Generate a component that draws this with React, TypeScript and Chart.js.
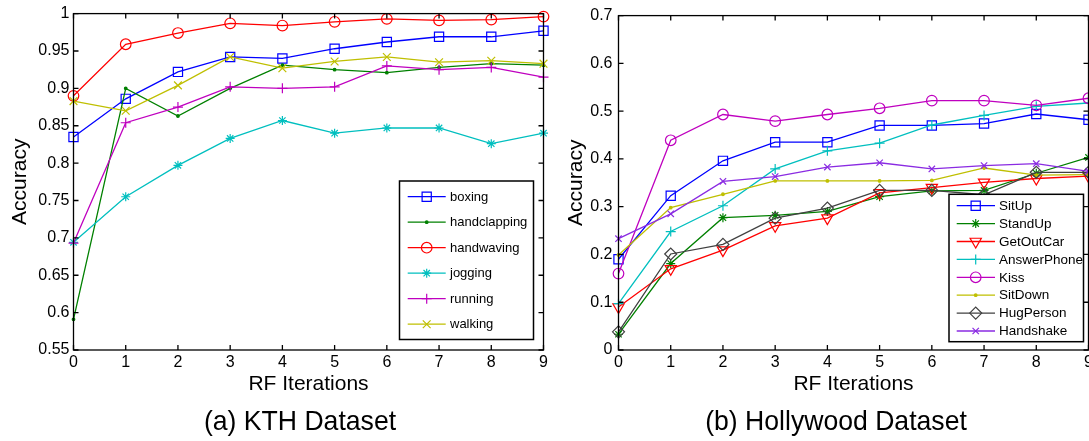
import React, { useEffect, useRef } from 'react';
import { Chart, registerables } from 'chart.js';
import { drawPoint } from 'chart.js/helpers';

Chart.register(...registerables);

// ---------- data ----------
const iterations = ['0', '1', '2', '3', '4', '5', '6', '7', '8', '9'];

const kthYTicks = [0.55, 0.6, 0.65, 0.7, 0.75, 0.8, 0.85, 0.9, 0.95, 1];
const hollyYTicks = [0, 0.1, 0.2, 0.3, 0.4, 0.5, 0.6, 0.7];

const kthNames = ['boxing', 'handclapping', 'handwaving', 'jogging', 'running', 'walking'];
const boxing = [0.835, 0.886, 0.922, 0.942, 0.94, 0.953, 0.962, 0.969, 0.969, 0.977];
const handclapping = [0.591, 0.9, 0.863, 0.9, 0.931, 0.925, 0.921, 0.928, 0.933, 0.931];
const handwaving = [0.89, 0.959, 0.974, 0.987, 0.984, 0.989, 0.993, 0.991, 0.992, 0.996];
const jogging = [0.694, 0.755, 0.797, 0.833, 0.857, 0.84, 0.847, 0.847, 0.826, 0.84];
const running = [0.693, 0.854, 0.875, 0.902, 0.9, 0.902, 0.93, 0.925, 0.928, 0.915];
const walking = [0.883, 0.87, 0.904, 0.942, 0.927, 0.936, 0.942, 0.935, 0.937, 0.933];

const hollyNames = ['SitUp', 'StandUp', 'GetOutCar', 'AnswerPhone', 'Kiss', 'SitDown', 'HugPerson', 'Handshake'];
const sitUp = [0.19, 0.323, 0.396, 0.435, 0.435, 0.47, 0.47, 0.474, 0.494, 0.482];
const standUp = [0.033, 0.181, 0.277, 0.282, 0.29, 0.321, 0.333, 0.334, 0.37, 0.403];
const getOutCar = [0.09, 0.17, 0.209, 0.26, 0.276, 0.329, 0.34, 0.351, 0.359, 0.364];
const answerPhone = [0.097, 0.248, 0.302, 0.379, 0.417, 0.433, 0.471, 0.491, 0.51, 0.517];
const kiss = [0.16, 0.439, 0.493, 0.479, 0.493, 0.506, 0.522, 0.522, 0.512, 0.527];
const sitDown = [0.199, 0.298, 0.326, 0.354, 0.354, 0.354, 0.355, 0.381, 0.366, 0.367];
const hugPerson = [0.038, 0.201, 0.221, 0.276, 0.297, 0.334, 0.334, 0.325, 0.372, 0.372];
const handshake = [0.233, 0.285, 0.353, 0.363, 0.383, 0.392, 0.379, 0.386, 0.39, 0.374];

// ---------- styles ----------
const FONT = '"Liberation Sans", Arial, Helvetica, sans-serif';

type Marker = { pointStyle: string; radius: number; rotation?: number; filled?: boolean };

const kthStyles: { color: string; marker: Marker }[] = [
  { color: '#0000ff', marker: { pointStyle: 'rect', radius: 6.5 } },
  { color: '#008000', marker: { pointStyle: 'circle', radius: 1.3, filled: true } },
  { color: '#ff0000', marker: { pointStyle: 'circle', radius: 5.3 } },
  { color: '#00bfbf', marker: { pointStyle: 'star', radius: 4.5 } },
  { color: '#bf00bf', marker: { pointStyle: 'cross', radius: 5 } },
  { color: '#bfbf00', marker: { pointStyle: 'crossRot', radius: 5.5 } },
];

const hollyStyles: { color: string; marker: Marker }[] = [
  { color: '#0000ff', marker: { pointStyle: 'rect', radius: 6.5 } },
  { color: '#008000', marker: { pointStyle: 'star', radius: 4.5 } },
  { color: '#ff0000', marker: { pointStyle: 'triangle', radius: 6.5, rotation: 180 } },
  { color: '#00bfbf', marker: { pointStyle: 'cross', radius: 5 } },
  { color: '#bf00bf', marker: { pointStyle: 'circle', radius: 5.3 } },
  { color: '#bfbf00', marker: { pointStyle: 'circle', radius: 1.3, filled: true } },
  { color: '#404040', marker: { pointStyle: 'rectRot', radius: 6 } },
  { color: '#8a2be2', marker: { pointStyle: 'crossRot', radius: 4.5 } },
];

function buildDatasets(names: string[], series: number[][], styles: { color: string; marker: Marker }[]) {
  const n = names.length;
  return names.map((name, i) => {
    const st = styles[i];
    return {
      label: name,
      data: series[i],
      borderColor: st.color,
      backgroundColor: st.marker.filled ? st.color : 'rgba(0,0,0,0)',
      borderWidth: 1.3,
      pointStyle: st.marker.pointStyle,
      pointRadius: st.marker.radius,
      pointRotation: st.marker.rotation || 0,
      pointBorderColor: st.color,
      pointBackgroundColor: st.marker.filled ? st.color : 'rgba(0,0,0,0)',
      pointBorderWidth: 1.2,
      tension: 0,
      fill: false,
      clip: false as any,
      order: n - i,
      _marker: st.marker,
    };
  });
}

// frame with inward ticks on all four sides (MATLAB box style)
const framePlugin = {
  id: 'matlabFrame',
  afterDatasetsDraw(chart: any) {
    const { ctx, chartArea } = chart;
    const { left, right, top, bottom } = chartArea;
    const xs = chart.scales.x;
    const ys = chart.scales.y;
    const len = 5;
    ctx.save();
    ctx.strokeStyle = '#000';
    ctx.lineWidth = 1.3;
    ctx.beginPath();
    xs.ticks.forEach((_t: any, i: number) => {
      const px = xs.getPixelForTick(i);
      ctx.moveTo(px, bottom);
      ctx.lineTo(px, bottom - len);
      ctx.moveTo(px, top);
      ctx.lineTo(px, top + len);
    });
    ys.ticks.forEach((t: any) => {
      const py = ys.getPixelForValue(t.value);
      ctx.moveTo(left, py);
      ctx.lineTo(left + len, py);
      ctx.moveTo(right, py);
      ctx.lineTo(right - len, py);
    });
    ctx.stroke();
    ctx.strokeRect(left, top, right - left, bottom - top);
    ctx.restore();
  },
};

// legend box drawn inside the plot
const boxLegendPlugin = {
  id: 'boxLegend',
  afterDraw(chart: any, _args: any, opts: any) {
    if (!opts || !opts.display) return;
    const { ctx } = chart;
    const { left, top, right, bottom, firstRow, rowGap, lineFrom, lineTo, markerX, textX, fontSize } = opts;
    ctx.save();
    ctx.fillStyle = '#fff';
    ctx.fillRect(left, top, right - left, bottom - top);
    ctx.strokeStyle = '#000';
    ctx.lineWidth = 1.5;
    ctx.strokeRect(left, top, right - left, bottom - top);
    chart.data.datasets.forEach((ds: any, i: number) => {
      const y = firstRow + i * rowGap;
      ctx.strokeStyle = ds.borderColor;
      ctx.lineWidth = 1.3;
      ctx.beginPath();
      ctx.moveTo(lineFrom, y);
      ctx.lineTo(lineTo, y);
      ctx.stroke();
      const m = ds._marker;
      ctx.fillStyle = m.filled ? ds.borderColor : 'rgba(0,0,0,0)';
      ctx.strokeStyle = ds.borderColor;
      ctx.lineWidth = 1.2;
      drawPoint(ctx, { pointStyle: m.pointStyle, radius: m.radius, rotation: m.rotation || 0, borderWidth: 1.2 } as any, markerX, y);
      ctx.fillStyle = '#000';
      ctx.font = `${fontSize}px ${FONT}`;
      ctx.textAlign = 'left';
      ctx.textBaseline = 'middle';
      ctx.fillText(ds.label, textX, y + 0.5);
    });
    ctx.restore();
  },
};

function fmt(v: number) {
  return String(Number(v.toFixed(2)));
}

type ChartSpec = {
  names: string[];
  series: number[][];
  styles: { color: string; marker: Marker }[];
  yTicks: number[];
  yAxisWidth: number;
  padRight: number;
  yTickPad: number;
  yTitlePad: number;
  legend: any;
};

function makeConfig(spec: ChartSpec): any {
  const yMin = spec.yTicks[0];
  const yMax = spec.yTicks[spec.yTicks.length - 1];
  return {
    type: 'line',
    data: { labels: iterations, datasets: buildDatasets(spec.names, spec.series, spec.styles) },
    options: {
      animation: false,
      responsive: false,
      devicePixelRatio: 1,
      layout: { padding: { left: 0, top: 12, right: spec.padRight, bottom: 41 } },
      plugins: {
        legend: { display: false },
        tooltip: { enabled: false },
        boxLegend: spec.legend,
      },
      scales: {
        x: {
          type: 'category',
          offset: false,
          grid: { display: false, drawTicks: false },
          border: { display: false },
          ticks: { color: '#000', font: { family: FONT, size: 16 }, padding: 3, maxRotation: 0, autoSkip: false },
          title: {
            display: true,
            text: 'RF Iterations',
            color: '#000',
            font: { family: FONT, size: 21 },
            padding: { top: 0, bottom: 3 },
          },
          afterFit: (s: any) => {
            s.height = 50;
          },
        },
        y: {
          type: 'linear',
          min: yMin,
          max: yMax,
          grid: { display: false, drawTicks: false },
          border: { display: false },
          afterBuildTicks: (s: any) => {
            s.ticks = spec.yTicks.map((v) => ({ value: v }));
          },
          ticks: {
            color: '#000',
            font: { family: FONT, size: 16 },
            padding: spec.yTickPad,
            callback: (v: any) => fmt(Number(v)),
          },
          title: {
            display: true,
            text: 'Accuracy',
            color: '#000',
            font: { family: FONT, size: 21 },
            padding: { top: spec.yTitlePad, bottom: 0 },
          },
          afterFit: (s: any) => {
            s.width = spec.yAxisWidth;
          },
        },
      },
    },
    plugins: [framePlugin, boxLegendPlugin],
  };
}

const kthSpec: ChartSpec = {
  names: kthNames,
  series: [boxing, handclapping, handwaving, jogging, running, walking],
  styles: kthStyles,
  yTicks: kthYTicks,
  yAxisWidth: 73.5,
  padRight: 11.5,
  yTickPad: 4,
  yTitlePad: 8,
  legend: {
    display: true,
    left: 399.5,
    top: 181,
    right: 533.5,
    bottom: 339.5,
    firstRow: 196.7,
    rowGap: 25.5,
    lineFrom: 407.7,
    lineTo: 445.7,
    markerX: 426.7,
    textX: 450,
    fontSize: 13,
  },
};

const hollySpec: ChartSpec = {
  names: hollyNames,
  series: [sitUp, standUp, getOutCar, answerPhone, kiss, sitDown, hugPerson, handshake],
  styles: hollyStyles,
  yTicks: hollyYTicks,
  yAxisWidth: 63.5,
  padRight: 11.5,
  yTickPad: 6,
  yTitlePad: 9,
  legend: {
    display: true,
    left: 394,
    top: 194.3,
    right: 528.5,
    bottom: 341.7,
    firstRow: 205.7,
    rowGap: 17.9,
    lineFrom: 401.7,
    lineTo: 440,
    markerX: 420.7,
    textX: 444,
    fontSize: 13.5,
  },
};

function LineChart({ spec, width, height }: { spec: ChartSpec; width: number; height: number }) {
  const ref = useRef<HTMLCanvasElement | null>(null);
  useEffect(() => {
    if (!ref.current) return;
    const chart = new Chart(ref.current, makeConfig(spec));
    return () => chart.destroy();
  }, [spec]);
  return <canvas ref={ref} width={width} height={height} style={{ display: 'block', width, height }} />;
}

const captionStyle: React.CSSProperties = {
  position: 'absolute',
  top: 405,
  width: 600,
  textAlign: 'center',
  fontFamily: FONT,
  fontSize: 28,
  lineHeight: '31px',
  color: '#000',
  whiteSpace: 'nowrap',
  transform: 'scaleX(0.95)',
  transformOrigin: 'center',
};

export default function App() {
  return (
    <div
      style={{
        position: 'absolute',
        left: 0,
        top: 0,
        width: 1089,
        height: 441,
        overflow: 'hidden',
        background: '#fff',
      }}
    >
      <div style={{ position: 'absolute', left: 0, top: 0 }}>
        <LineChart spec={kthSpec} width={555} height={441} />
      </div>
      <div style={{ position: 'absolute', left: 555, top: 0 }}>
        <LineChart spec={hollySpec} width={545} height={441} />
      </div>
      <div style={{ ...captionStyle, left: 300 - 300 }}>(a) KTH Dataset</div>
      <div style={{ ...captionStyle, left: 836 - 300 }}>(b) Hollywood Dataset</div>
    </div>
  );
}
